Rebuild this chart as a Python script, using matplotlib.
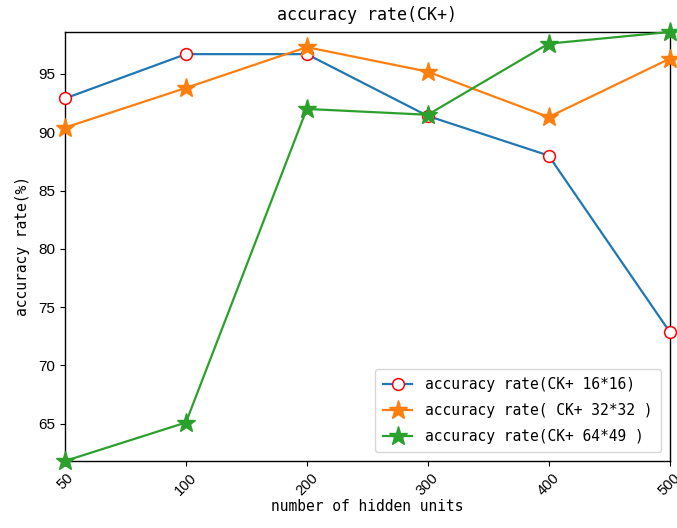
import matplotlib
matplotlib.use("Agg")
import matplotlib.pyplot as plt

# Hidden-unit settings (categorical x positions) and accuracy per input size
hidden_units = ["50", "100", "200", "300", "400", "500"]
acc_16x16 = [92.9, 96.7, 96.7, 91.4, 88.0, 72.9]
acc_32x32 = [90.4, 93.8, 97.3, 95.2, 91.3, 96.3]
acc_64x49 = [61.8, 65.1, 92.0, 91.5, 97.6, 98.6]

labels = ["accuracy rate(CK+ 16*16)",
          "accuracy rate( CK+ 32*32 )",
          "accuracy rate(CK+ 64*49 )"]
y_ticks = [65, 70, 75, 80, 85, 90, 95]

TEXT_FONT = ["DejaVu Sans Mono"]
TICK_FONT = ["Liberation Sans", "DejaVu Sans"]

fig = plt.figure(figsize=(6.77, 5.28), dpi=100)
ax = fig.add_axes([65 / 677, 1 - 461 / 528, (669.5 - 65) / 677, (461 - 32) / 528])

x = list(range(len(hidden_units)))
ax.plot(x, acc_16x16, color="#1f77b4", lw=1.6, marker="o", markersize=8.5,
        markerfacecolor="white", markeredgecolor="red", markeredgewidth=1.1,
        label=labels[0], clip_on=False, zorder=3)
ax.plot(x, acc_32x32, color="#ff7f0e", lw=1.6, marker="*", markersize=14,
        label=labels[1], clip_on=False, zorder=3)
ax.plot(x, acc_64x49, color="#2ca02c", lw=1.6, marker="*", markersize=14,
        label=labels[2], clip_on=False, zorder=3)

all_vals = acc_16x16 + acc_32x32 + acc_64x49
ax.set_xlim(0, len(hidden_units) - 1)
ax.set_ylim(min(all_vals), max(all_vals))

ax.set_xticks(x)
ax.set_xticklabels(hidden_units, rotation=45, family=TICK_FONT, fontsize=10.5)
ax.set_yticks(y_ticks)
ax.set_yticklabels([str(v) for v in y_ticks], family=TICK_FONT, fontsize=11)

ax.set_title("accuracy rate(CK+)", family=TEXT_FONT, fontsize=12, pad=9)
ax.set_xlabel("number of hidden units", family=TEXT_FONT, fontsize=10.5, labelpad=1)
ax.set_ylabel("accuracy rate(%)", family=TEXT_FONT, fontsize=10.5, labelpad=6)

for s in ax.spines.values():
    s.set_linewidth(1.0)
    s.set_color("black")

ax.legend(loc="lower right", prop={"family": TEXT_FONT, "size": 10.5},
          borderaxespad=0.6, handlelength=2.0, labelspacing=0.75,
          handletextpad=0.9, borderpad=0.55)

fig.savefig("out.png", dpi=100)
